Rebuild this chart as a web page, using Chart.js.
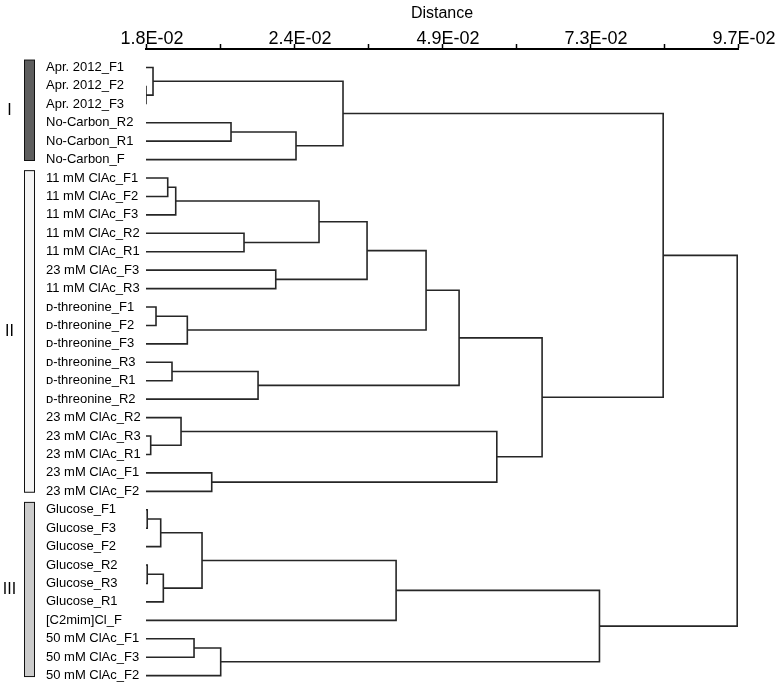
<!DOCTYPE html>
<html>
<head>
<meta charset="utf-8">
<script src="https://cdn.jsdelivr.net/npm/chart.js@4.4.0/dist/chart.umd.min.js"></script>
<style>
  html, body { margin: 0; padding: 0; background: #fff; }
  #wrap { width: 779px; height: 683px; }
</style>
</head>
<body>
<div id="wrap"><canvas id="dendro"></canvas></div>
<script>
// hojas del dendrograma, de arriba a abajo
const leafNames = [
  'Apr. 2012_F1', 'Apr. 2012_F2', 'Apr. 2012_F3',
  'No-Carbon_R2', 'No-Carbon_R1', 'No-Carbon_F',
  '11 mM ClAc_F1', '11 mM ClAc_F2', '11 mM ClAc_F3',
  '11 mM ClAc_R2', '11 mM ClAc_R1', '23 mM ClAc_F3', '11 mM ClAc_R3',
  'ᴅ-threonine_F1', 'ᴅ-threonine_F2', 'ᴅ-threonine_F3',
  'ᴅ-threonine_R3', 'ᴅ-threonine_R1', 'ᴅ-threonine_R2',
  '23 mM ClAc_R2', '23 mM ClAc_R3', '23 mM ClAc_R1',
  '23 mM ClAc_F1', '23 mM ClAc_F2',
  'Glucose_F1', 'Glucose_F3', 'Glucose_F2',
  'Glucose_R2', 'Glucose_R3', 'Glucose_R1',
  '[C2mim]Cl_F',
  '50 mM ClAc_F1', '50 mM ClAc_F3', '50 mM ClAc_F2'
];

// uniones (estilo linkage): indices < 34 son hojas, >= 34 son uniones previas
const mergeA = [1, 0, 3, 36, 35, 6, 39, 9, 40, 11, 42, 13, 45, 44, 16, 48, 47,
                20, 19, 22, 52, 50, 38, 24, 57, 27, 59, 58, 61, 31, 63, 62, 56];
const mergeB = [2, 34, 4, 5, 37, 7, 8, 10, 41, 12, 43, 14, 15, 46, 17, 18, 49,
                21, 51, 23, 53, 54, 55, 25, 26, 28, 29, 60, 30, 32, 33, 64, 65];
const mergeHeight = [0, 0.00115, 0.01393, 0.02458, 0.03228,
                     0.00356, 0.00487, 0.01606, 0.02835, 0.02126, 0.03622,
                     0.00164, 0.00677, 0.04589, 0.00426, 0.01836, 0.0513,
                     0.00077, 0.00574, 0.01077, 0.05748, 0.0649, 0.08474,
                     0.0002, 0.00241, 0.0002, 0.00284, 0.00918, 0.04098,
                     0.00787, 0.01224, 0.0743, 0.09687];

const tickValues = [0, 0.012125, 0.02425, 0.036375, 0.0485, 0.060625, 0.07275, 0.084875, 0.097];
const tickLabels = ['1.8E-02', '', '2.4E-02', '', '4.9E-02', '', '7.3E-02', '', '9.7E-02'];

const groupNames = ['I', 'II', 'III'];
const groupFirst = [0, 6, 24];
const groupLast = [5, 23, 33];
const groupColors = ['#5e5e5e', '#f5f5f5', '#cbcbcb'];

const FONT = '"Liberation Sans", Arial, sans-serif';

function buildDatasets() {
  var posY = leafNames.map((_, i) => i);
  var posX = leafNames.map(() => 0);
  var datasets = [];
  for (var k = 0; k < mergeHeight.length; k++) {
    var a = mergeA[k], b = mergeB[k], h = mergeHeight[k];
    datasets.push({
      data: [
        {x: posX[a], y: posY[a]},
        {x: h, y: posY[a]},
        {x: h, y: posY[b]},
        {x: posX[b], y: posY[b]}
      ],
      showLine: true,
      borderColor: '#262626',
      borderWidth: 1.6,
      pointRadius: 0,
      tension: 0
    });
    posY.push((posY[a] + posY[b]) / 2);
    posX.push(h);
  }
  return datasets;
}

// barras de grupo I, II, III a la izquierda
const groupBars = {
  id: 'groupBars',
  afterDraw(chart) {
    var ctx = chart.ctx;
    var y = chart.scales.y;
    ctx.save();
    for (var g = 0; g < groupNames.length; g++) {
      var top = y.getPixelForValue(groupFirst[g] - 0.4);
      var bottom = y.getPixelForValue(groupLast[g] + 0.05);
      ctx.fillStyle = groupColors[g];
      ctx.fillRect(24.5, top, 10, bottom - top);
      ctx.strokeStyle = '#111';
      ctx.lineWidth = 1;
      ctx.strokeRect(24.5, top, 10, bottom - top);
      ctx.fillStyle = '#000';
      ctx.font = '16px ' + FONT;
      ctx.textAlign = 'center';
      ctx.textBaseline = 'middle';
      ctx.fillText(groupNames[g], 9.5, (top + bottom) / 2);
    }
    ctx.restore();
  }
};

new Chart(document.getElementById('dendro'), {
  type: 'scatter',
  data: { datasets: buildDatasets() },
  plugins: [groupBars],
  options: {
    responsive: true,
    maintainAspectRatio: false,
    animation: false,
    layout: { padding: { top: 1, left: 46, right: 41, bottom: 0 } },
    plugins: { legend: { display: false }, tooltip: { enabled: false } },
    scales: {
      x: {
        type: 'linear',
        position: 'top',
        min: 0,
        max: 0.097,
        afterBuildTicks: s => { s.ticks = tickValues.map(v => ({ value: v })); },
        afterFit: s => { s.height = 48; s.paddingLeft = 0; s.paddingRight = 0; },
        ticks: {
          autoSkip: false,
          maxRotation: 0,
          padding: -6,
          labelOffset: 6,
          color: '#000',
          font: { family: FONT, size: 18 },
          callback: (v, i) => tickLabels[i]
        },
        grid: { drawOnChartArea: false, drawTicks: true, tickLength: 5, tickColor: '#000', tickWidth: 1.5 },
        border: { display: true, color: '#000', width: 2 },
        title: { display: true, text: 'Distance', color: '#000', font: { family: FONT, size: 16 }, padding: { top: 3, bottom: 0 } }
      },
      y: {
        type: 'linear',
        position: 'left',
        reverse: true,
        min: -1,
        max: 33.4,
        afterBuildTicks: s => { s.ticks = leafNames.map((_, i) => ({ value: i })); },
        afterFit: s => { s.width = 100; s.paddingTop = 0; s.paddingBottom = 0; },
        ticks: {
          autoSkip: false,
          crossAlign: 'far',
          padding: 4,
          color: '#000',
          font: { family: FONT, size: 13 },
          callback: v => leafNames[v]
        },
        grid: { display: false },
        border: { display: false }
      }
    }
  }
});
</script>
</body>
</html>
